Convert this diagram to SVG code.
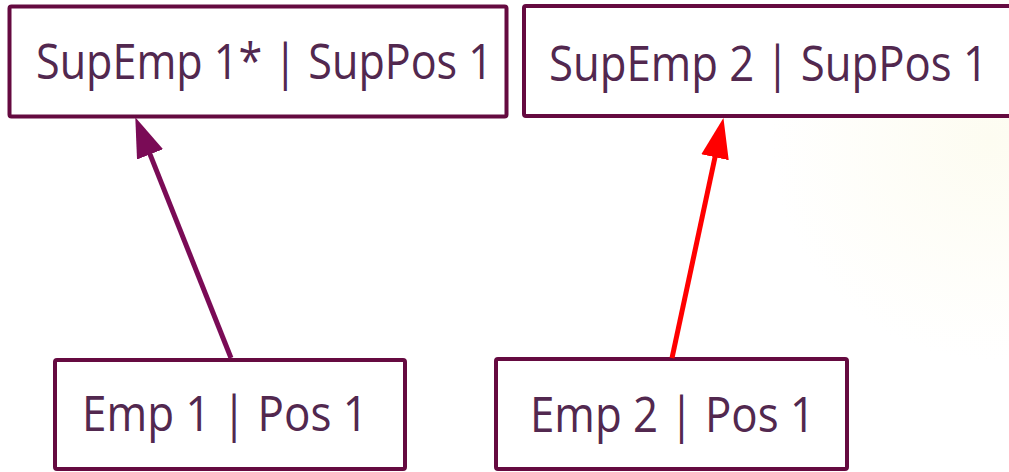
<svg xmlns="http://www.w3.org/2000/svg" width="1009" height="472" viewBox="0 0 1009 472">
<style>
.box{fill:#ffffff;stroke:#650a40;stroke-width:4;}
.lbl{font-family:"Open Sans","Noto Sans",sans-serif;font-size:49px;fill:#52284f;}
.c1{stroke:#7a0b56;stroke-width:5;fill:none;}
.c2{stroke:#ff0000;stroke-width:5;fill:none;}
</style>
<defs>
<radialGradient id="bg" cx="990" cy="140" r="220" gradientUnits="userSpaceOnUse">
<stop offset="0" stop-color="#fdfcf1"/>
<stop offset="1" stop-color="#ffffff"/>
</radialGradient>
<marker id="ah1" markerUnits="userSpaceOnUse" markerWidth="42" markerHeight="32" refX="18" refY="14" orient="auto">
<path d="M0,0 L40,14 L0,28 z" fill="#7a0b56"/>
</marker>
<marker id="ah2" markerUnits="userSpaceOnUse" markerWidth="42" markerHeight="32" refX="18" refY="14" orient="auto">
<path d="M0,0 L40,14 L0,28 z" fill="#ff0000"/>
</marker>
</defs>
<rect x="0" y="0" width="1009" height="472" fill="url(#bg)"/>
<g id="n1">
<rect class="box" x="9.5" y="6.5" width="497" height="110" rx="2"/>
<text class="lbl" x="36" y="79" textLength="457" lengthAdjust="spacingAndGlyphs">SupEmp 1* | SupPos 1</text>
</g>
<g id="n2">
<rect class="box" x="524" y="6" width="500" height="110" rx="2"/>
<text class="lbl" x="549" y="81" textLength="439" lengthAdjust="spacingAndGlyphs">SupEmp 2 | SupPos 1</text>
</g>
<g id="n3">
<rect class="box" x="55" y="360" width="350" height="109" rx="2"/>
<text class="lbl" x="82" y="431" textLength="286" lengthAdjust="spacingAndGlyphs">Emp 1 | Pos 1</text>
</g>
<g id="n4">
<rect class="box" x="496" y="359" width="351" height="110" rx="2"/>
<text class="lbl" x="530" y="432" textLength="285" lengthAdjust="spacingAndGlyphs">Emp 2 | Pos 1</text>
</g>
<g id="connectors">
<line class="c1" x1="231" y1="358" x2="143.4" y2="137.6" marker-end="url(#ah1)"/>
<line class="c2" x1="672" y1="358" x2="718.8" y2="139.6" marker-end="url(#ah2)"/>
</g>
</svg>
